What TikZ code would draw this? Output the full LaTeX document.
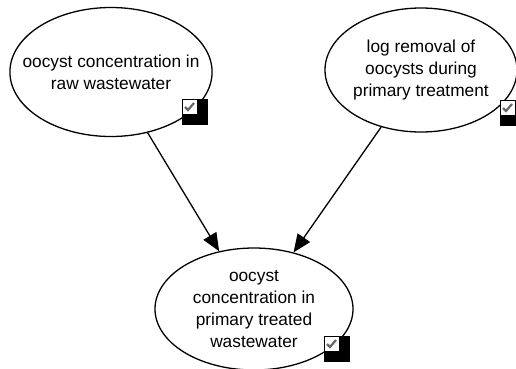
\documentclass[tikz,border=0pt]{standalone}
\usepackage{fontspec}
\setmainfont{Liberation Sans}
\usetikzlibrary{shapes.geometric,arrows.meta}

\begin{document}
\begin{tikzpicture}[x=1pt, y=-1pt, line width=1.3pt,
    var/.style={ellipse, draw, inner sep=0pt, align=center,
      font=\fontsize{17.3}{21.7}\selectfont},
    dep/.style={-{Triangle[length=18pt, width=15pt]}}]
  \useasboundingbox (0,0) rectangle (516,368);
  \node[var, inner xsep=-17pt, minimum width=202pt, minimum height=129pt]
    (raw) at (111,72) {oocyst concentration in\\raw wastewater};
  \node[var, minimum width=192pt, minimum height=124pt] (logrem) at (421,70)
    {log removal of\\oocysts during\\primary treatment};
  \node[var, minimum width=198pt, minimum height=122pt] (treated) at (254,309)
    {oocyst\\concentration in\\primary treated\\wastewater};
  \draw[dep] (raw) -- (treated);
  \draw[dep] (logrem) -- (treated);
  % checked boxes in the lower right of each node
  \foreach \x/\y in {182/99, 500/100, 324/336} {
    \fill (\x,\y) rectangle ++(26,26);
    \filldraw[fill=white, line width=0.8pt] (\x,\y) rectangle ++(15,15);
    \draw[gray!80!black, line width=2.2pt] (\x+3,\y+8) -- (\x+6,\y+11) -- (\x+12,\y+4);
  }
\end{tikzpicture}
\end{document}
